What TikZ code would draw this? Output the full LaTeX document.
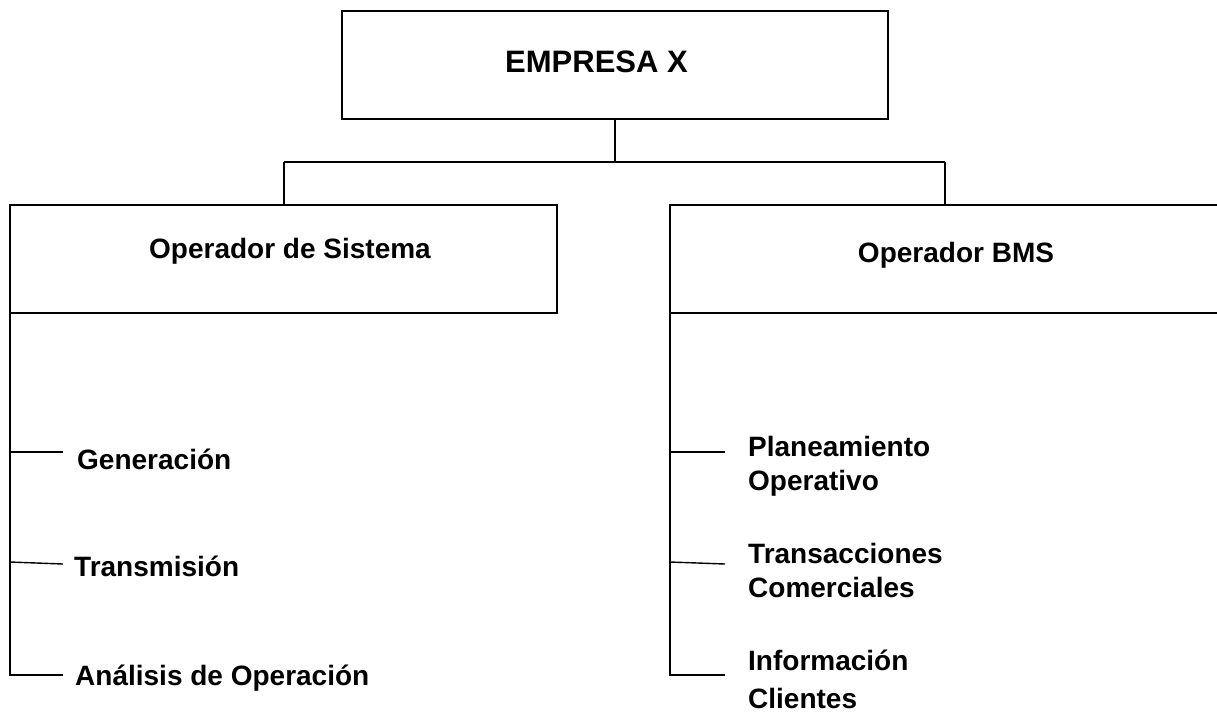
\documentclass[tikz,border=0pt]{standalone}
\usepackage{fontspec}
\setmainfont{Liberation Sans}
\usepackage{tikz}
\usetikzlibrary{positioning, calc}

\begin{document}
\begin{tikzpicture}[
    x=1pt, y=-1pt,
    unit/.style={draw, line width=1.5pt, inner sep=0pt, outer sep=0pt},
    head/.style={font=\fontsize{31}{37}\selectfont\bfseries, inner sep=0pt, anchor=base},
    title/.style={font=\fontsize{28}{34}\selectfont\bfseries, inner sep=0pt, anchor=base},
    item/.style={font=\fontsize{28}{34}\selectfont\bfseries, inner sep=0pt,
                 anchor=base west, align=left},
    link/.style={line width=1.4pt},
]
\clip (0,0) rectangle (1217,713);
\fill[white] (0,0) rectangle (1217,713);

% --- Boxes ---
\node[unit, minimum width=546, minimum height=108] (emp) at (615,65) {};
\node[unit, minimum width=547, minimum height=108] (sis) at (283.5,259) {};
\node[unit, minimum width=570, minimum height=108] (bms) at (955,259) {};

\node[head]  (empT) at (596.5,72.5) {EMPRESA X};
\node[title] (sisT) at (290,258) {Operador de Sistema};
\node[title] (bmsT) at (956,262) {Operador BMS};

% --- Bus between levels ---
\coordinate (busM) at (615,162);
\coordinate (busL) at (284,162);
\coordinate (busR) at (945,162);
\draw[link] (emp.south) -- (busM);
\draw[link] (busL) -- (busR);
\draw[link] (busL) -- (busL |- sis.north);
\draw[link] (busR) -- (busR |- bms.north);

% --- Left branch ---
\node[item] (gen) at (77,469)  {Generación};
\node[item] (tra) at (74,576)  {Transmisión};
\node[item] (ana) at (75,685)  {Análisis de Operación};

\coordinate (sisL) at (10,313);
\draw[link] (sisL) |- ($(ana.base west)+(-12,-10)$);
\draw[link] (10,452) -- ($(gen.base west)+(-14,-17)$);
\draw[link] (10,562) -- ($(tra.base west)+(-11,-12)$);

% --- Right branch (base = last line) ---
\node[item] (pla) at (748,490) {Planeamiento\\Operativo};
\node[item] (tcm) at (748,597) {Transacciones\\Comerciales};
\node[item] (inf) at (748,708) {Información\\[4pt]Clientes};

\coordinate (bmsL) at (670,313);
\draw[link] (bmsL) |- ($(inf.base west)+(-23,-33)$);
\draw[link] (670,452) -- ($(pla.base west)+(-23,-38)$);
\draw[link] (670,562) -- ($(tcm.base west)+(-23,-33)$);

\end{tikzpicture}
\end{document}
